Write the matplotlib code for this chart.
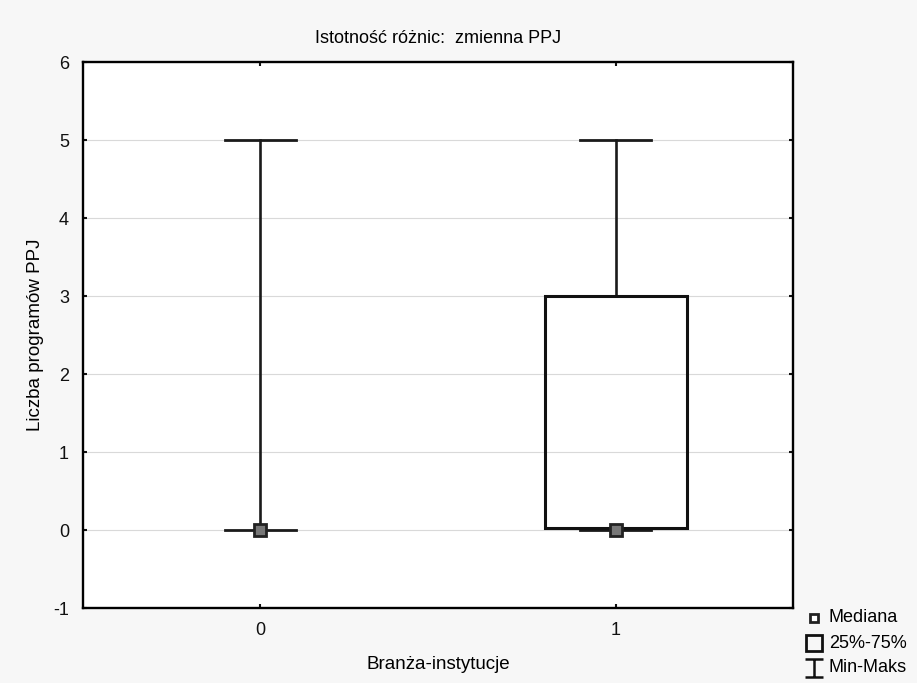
import numpy as np
import matplotlib.pyplot as plt
from matplotlib.patches import Rectangle
from matplotlib.lines import Line2D
from matplotlib.path import Path

plt.rcParams['font.family'] = ['Liberation Sans', 'DejaVu Sans']
plt.rcParams['axes.unicode_minus'] = False

# data
groups = ['0', '1']
medians = [0, 0]
q1 = [0, 0.02]
q3 = [0, 3]
mins = [0, 0]
maxs = [5, 5]
legend_labels = ['Mediana', '25%-75%', 'Min-Maks']

W, H = 917, 683
fig = plt.figure(figsize=(W / 100, H / 100), dpi=100, facecolor='#f7f7f7')
ax = fig.add_axes([0.0905, 0.1098, 0.7743, 0.7994])
ax.set_facecolor('white')

cap = 0.1
half = 0.2
for i in range(len(groups)):
    # whiskers
    ax.plot([i, i], [q3[i], maxs[i]], color='#1a1a1a', lw=1.9, zorder=2)
    ax.plot([i, i], [mins[i], q1[i]], color='#1a1a1a', lw=1.9, zorder=2)
    ax.plot([i - cap, i + cap], [maxs[i], maxs[i]], color='#1a1a1a', lw=2.0, zorder=2)
    ax.plot([i - cap, i + cap], [mins[i], mins[i]], color='#1a1a1a', lw=2.0, zorder=2)
    if q3[i] > q1[i]:
        ax.add_patch(Rectangle((i - half, q1[i]), 2 * half, q3[i] - q1[i],
                               fill=False, ec='#111111', lw=2.2, zorder=3))
    ax.plot(i, medians[i], marker='s', ms=8, mfc='#777777', mec='#222222',
            mew=2, zorder=4)

ax.set_xlim(-0.5, 1.5)
ax.set_ylim(-1, 6)
ax.set_xticks(range(len(groups)))
ax.set_xticklabels(groups)
ax.set_yticks(range(-1, 7))
ax.yaxis.grid(True, color='#d9d9d9', lw=0.8)
ax.set_axisbelow(True)
ax.tick_params(direction='in', length=3, width=1.5, labelsize=13,
               top=True, right=True, pad=10, colors='#111111')
for s in ax.spines.values():
    s.set_linewidth(1.7)

ax.set_title('Istotność różnic:  zmienna PPJ', fontsize=13, pad=14)
ax.set_xlabel('Branża-instytucje', fontsize=13.5, labelpad=12)
ax.set_ylabel('Liczba programów PPJ', fontsize=13.5, labelpad=7)

# legend drawn by hand, an I-beam symbol for min-max
ibeam = Path([(-1, 1), (1, 1), (0, 1), (0, -1), (-1, -1), (1, -1)],
             [Path.MOVETO, Path.LINETO, Path.MOVETO, Path.LINETO,
              Path.MOVETO, Path.LINETO])
leg_marks = [
    dict(marker='s', ms=6, mfc='white', mec='#222222', mew=2),
    dict(marker='s', ms=12, mfc='none', mec='#111111', mew=2),
    dict(marker=ibeam, ms=13, mec='#111111', mew=1.8),
]
leg_rows = [618, 643, 668]
for lab, mk, yy in zip(legend_labels, leg_marks, leg_rows):
    fig.add_artist(Line2D([814 / W], [1 - yy / H], transform=fig.transFigure,
                          ls='none', **mk))
    fig.text(829 / W, 1 - yy / H, lab, fontsize=13, va='center', ha='left')

fig.savefig('out.png', dpi=100, facecolor=fig.get_facecolor())
